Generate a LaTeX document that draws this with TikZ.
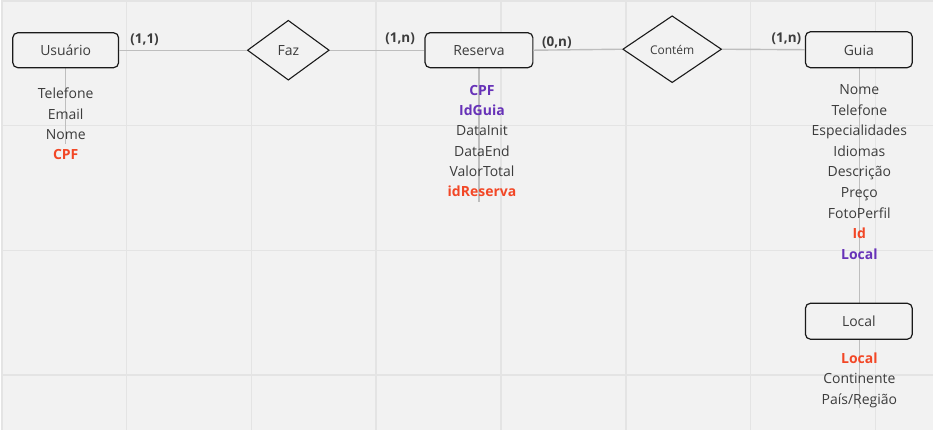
\documentclass[tikz,border=0pt]{standalone}
\usepackage{fontspec}
\setmainfont{Open Sans}
\usetikzlibrary{positioning,shapes.geometric}
\definecolor{boardGray}{RGB}{242, 242, 242}
\definecolor{gridGray}{RGB}{228, 228, 228}
\definecolor{linkGray}{RGB}{190, 190, 190}
\definecolor{inkDark}{RGB}{26, 26, 26}
\definecolor{textGray}{RGB}{60, 60, 60}
\definecolor{keyRed}{RGB}{242, 71, 38}
\definecolor{keyPurple}{RGB}{103, 50, 184}
\tikzset{
  entbox/.style={draw=inkDark, fill=boardGray, rounded corners=5pt, line width=1.2pt,
    minimum width=106pt, minimum height=35pt, inner sep=0pt, text height=12pt, text depth=1pt,
    font=\fontsize{14pt}{16pt}\selectfont, text=textGray},
  relshape/.style={diamond, draw=inkDark, fill=boardGray, line width=1.1pt, inner sep=0pt,
    text height=12pt, text depth=1pt, font=\fontsize{14pt}{16pt}\selectfont, text=textGray},
  link/.style={draw=linkGray, line width=1.4pt},
  attrtext/.style={anchor=base, inner sep=0pt, text=textGray, font=\fontsize{14pt}{16pt}\selectfont},
  keyred/.style={attrtext, text=keyRed, font=\fontsize{14pt}{16pt}\selectfont\bfseries},
  keypurple/.style={attrtext, text=keyPurple, font=\fontsize{14pt}{16pt}\selectfont\bfseries},
  cardlabel/.style={anchor=base, inner sep=0pt, text=inkDark!85, font=\fontsize{13.5pt}{16pt}\selectfont\bfseries}
}

\begin{document}
\begin{tikzpicture}[x=1pt, y=-1pt]
  % board with grid
  \fill[boardGray] (0,0) rectangle (934,430);
  \foreach \gx in {1,126,251,376,501,626,751,876}
    \draw[gridGray, line width=1.6pt] (\gx,0) -- (\gx,430);
  \foreach \gy in {0,125,250,375}
    \draw[gridGray, line width=1.6pt] (0,\gy) -- (934,\gy);

  % attribute stems (behind everything)
  \coordinate (usuarioEnd) at (65,143);
  \coordinate (reservaEnd) at (479,202);
  \coordinate (localEnd) at (860,408);
  \draw[link] (65,67) -- (usuarioEnd);
  \draw[link] (479,67) -- (reservaEnd);
  \draw[link] (860,67) -- (860,303);
  \draw[link] (860,339) -- (localEnd);

  % entities and relationships
  \node[entbox] (usuario) at (65,49.5) {Usuário};
  \node[relshape, minimum width=82pt, minimum height=60pt] (faz) at (288,49.5) {Faz};
  \node[entbox, minimum width=108pt] (reserva) at (479,49.5) {Reserva};
  \node[relshape, minimum width=99pt, minimum height=67pt,
        font=\fontsize{12pt}{14pt}\selectfont] (contem) at (672.5,48.5) {Contém};
  \node[entbox, minimum width=107pt, minimum height=36pt] (guia) at (859.5,49) {Guia};
  \node[entbox, minimum width=107pt, minimum height=36pt] (local) at (859.5,321) {Local};

  % connectors
  \draw[link] (usuario.east) -- (faz.west);
  \draw[link] (faz.east) -- (reserva.west);
  \draw[link] (reserva.east) -- (contem.west);
  \draw[link] (contem.east) -- (guia.west);

  % cardinalities
  \node[cardlabel] (cardUsuario) at (144,43) {(1,1)};
  \node[cardlabel] (cardReserva) at (400,42) {(1,n)};
  \node[cardlabel] (cardReservaB) at (557,46) {(0,n)};
  \node[cardlabel] (cardGuia) at (787,42) {(1,n)};

  % attributes
  \foreach \txt/\sty [count=\i] in {Telefone/attrtext, Email/attrtext, Nome/attrtext, CPF/keyred}
    \node[\sty] (usuario-\i) at (65,98+20.4*\i-20.4) {\txt};
  \foreach \txt/\sty [count=\i] in {CPF/keypurple, IdGuia/keypurple, DataInit/attrtext,
      DataEnd/attrtext, ValorTotal/attrtext, idReserva/keyred}
    \node[\sty] (reserva-\i) at (482,95+20.2*\i-20.2) {\txt};
  \foreach \txt/\sty [count=\i] in {Nome/attrtext, Telefone/attrtext, Especialidades/attrtext,
      Idiomas/attrtext, Descrição/attrtext, Preço/attrtext, FotoPerfil/attrtext, Id/keyred, Local/keypurple}
    \node[\sty] (guia-\i) at (860,94+20.6*\i-20.6) {\txt};
  \foreach \txt/\sty [count=\i] in {Local/keyred, Continente/attrtext, {País/Região}/attrtext}
    \node[\sty] (local-\i) at (860,363+20.5*\i-20.5) {\txt};
\end{tikzpicture}
\end{document}
